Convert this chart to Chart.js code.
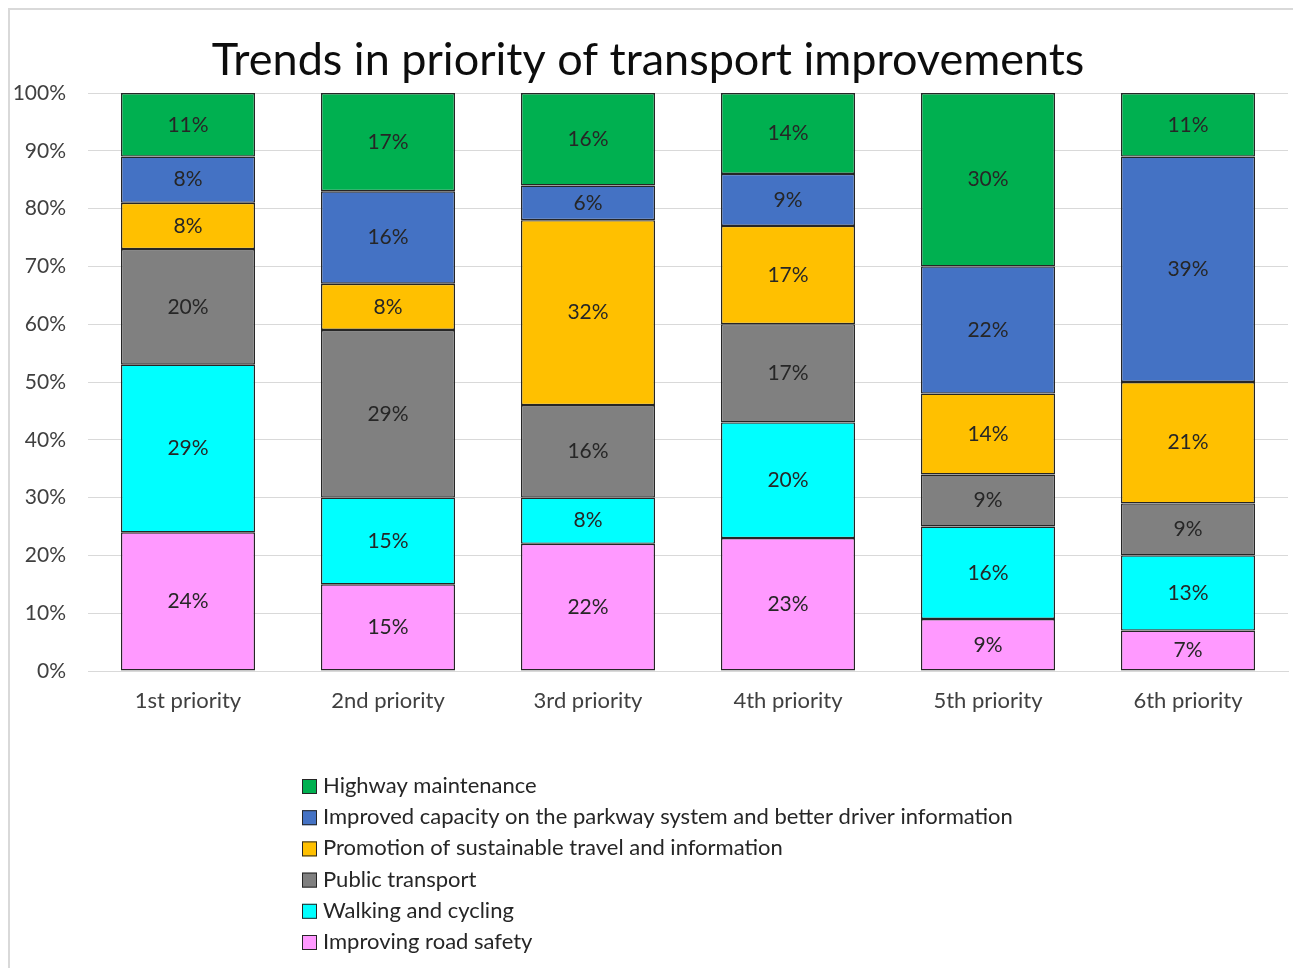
<!DOCTYPE html>
<html lang="en">
<head>
<meta charset="UTF-8">
<title>Trends in priority of transport improvements</title>
<style>
  html, body { margin: 0; padding: 0; background: #fff; overflow: hidden; }
  #wrap { position: relative; width: 1293px; height: 968px; }
  #canvas { position: absolute; left: 0; top: 0; }
  #frame {
    position: absolute; left: 8px; top: 8px; width: 1300px; height: 980px;
    border: 2px solid #d9d9d9; pointer-events: none;
  }
</style>
</head>
<body>
<div id="wrap">
  <canvas id="canvas" width="1293" height="968"></canvas>
  <div id="frame"></div>
</div>
<script src="https://cdn.jsdelivr.net/npm/chart.js@4/dist/chart.umd.min.js"></script>
<script>
'use strict';

// categories along the x axis
var categories = ['1st priority', '2nd priority', '3rd priority', '4th priority', '5th priority', '6th priority'];

// series, bottom of the stack first
var roadSafety   = [24, 15, 22, 23, 9, 7];
var walkCycle    = [29, 15, 8, 20, 16, 13];
var publicTrans  = [20, 29, 16, 17, 9, 9];
var promotion    = [8, 8, 32, 17, 14, 21];
var capacity     = [8, 16, 6, 9, 22, 39];
var maintenance  = [11, 17, 16, 14, 30, 11];

var yTicks = [0, 10, 20, 30, 40, 50, 60, 70, 80, 90, 100];

var FONT = 'Lato, "Noto Sans", sans-serif';

function series(label, data, color) {
  return {
    label: label,
    data: data,
    backgroundColor: color,
    borderColor: '#262626',
    borderWidth: 1.4,
    borderSkipped: false,
    barPercentage: 0.67,
    categoryPercentage: 1
  };
}

// value labels in the middle of each segment
var segmentLabels = {
  id: 'segmentLabels',
  afterDatasetsDraw: function(chart) {
    var ctx = chart.ctx;
    ctx.save();
    ctx.font = '21px ' + FONT;
    ctx.fillStyle = '#262626';
    ctx.textAlign = 'center';
    ctx.textBaseline = 'middle';
    chart.data.datasets.forEach(function(ds, i) {
      chart.getDatasetMeta(i).data.forEach(function(bar, j) {
        var p = bar.getCenterPoint();
        ctx.fillText(ds.data[j] + '%', p.x, p.y);
      });
    });
    ctx.restore();
  }
};

// one legend entry per line, top of the stack first
var listLegend = {
  id: 'listLegend',
  afterDraw: function(chart) {
    var ctx = chart.ctx;
    var sets = chart.data.datasets.slice().reverse();
    var x = 302, y = 786, step = 31.2;
    ctx.save();
    ctx.font = '22px ' + FONT;
    ctx.textBaseline = 'middle';
    ctx.textAlign = 'left';
    sets.forEach(function(ds, k) {
      var cy = y + k * step;
      ctx.fillStyle = ds.backgroundColor;
      ctx.fillRect(x, cy - 7, 15, 15);
      ctx.strokeStyle = '#262626';
      ctx.lineWidth = 1;
      ctx.strokeRect(x + 0.5, cy - 6.5, 14, 14);
      ctx.fillStyle = '#262626';
      ctx.fillText(ds.label, x + 21, cy);
    });
    ctx.restore();
  }
};

var config = {
  type: 'bar',
  data: {
    labels: categories,
    datasets: [
      series('Improving road safety', roadSafety, '#ff99ff'),
      series('Walking and cycling', walkCycle, '#00ffff'),
      series('Public transport', publicTrans, '#808080'),
      series('Promotion of sustainable travel and information', promotion, '#ffc000'),
      series('Improved capacity on the parkway system and better driver information', capacity, '#4472c4'),
      series('Highway maintenance', maintenance, '#00b050')
    ]
  },
  plugins: [segmentLabels, listLegend],
  options: {
    responsive: false,
    animation: false,
    layout: {
      padding: { top: 0, right: 5, bottom: 0, left: 8 }
    },
    plugins: {
      legend: { display: false },
      tooltip: { enabled: false },
      title: {
        display: true,
        text: 'Trends in priority of transport improvements',
        color: '#0d0d0d',
        font: { family: FONT, size: 45, weight: 'normal', lineHeight: 1.2 },
        padding: { top: 33, bottom: 6 }
      }
    },
    scales: {
      x: {
        stacked: true,
        grid: { display: false, drawTicks: false },
        border: { display: true, color: '#d9d9d9', width: 1 },
        ticks: { color: '#404040', font: { family: FONT, size: 22 }, padding: 17 },
        afterFit: function(scale) { scale.height = 297; }
      },
      y: {
        stacked: true,
        min: 0,
        max: 100,
        afterBuildTicks: function(scale) {
          scale.ticks = yTicks.map(function(v) { return { value: v }; });
        },
        grid: { color: '#d9d9d9', drawTicks: false },
        border: { display: false },
        ticks: {
          color: '#404040',
          font: { family: FONT, size: 21 },
          padding: 22,
          callback: function(v) { return v + '%'; }
        },
        afterFit: function(scale) { scale.width = 80; }
      }
    }
  }
};

var ctx = document.getElementById('canvas').getContext('2d');
var chart = new Chart(ctx, config);
</script>
</body>
</html>
